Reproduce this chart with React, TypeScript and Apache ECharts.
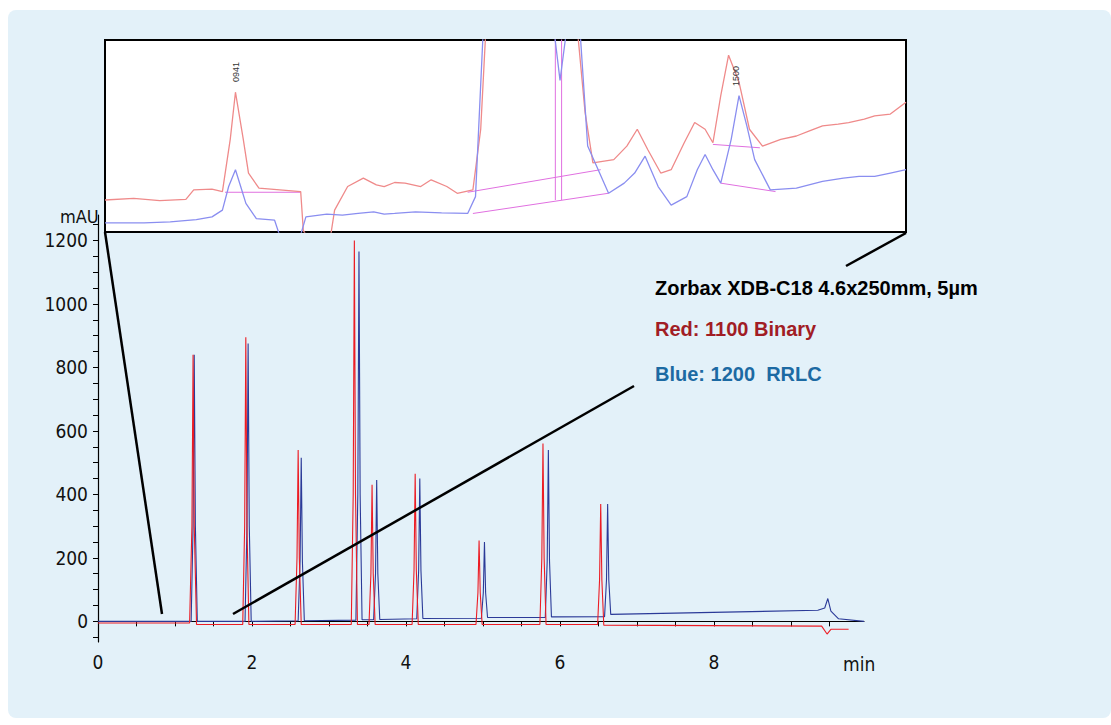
import { useEffect, useRef } from 'react';
import * as echarts from 'echarts';

// main chromatogram (min, mAU)
const redTrace: [number, number][] = [
  [0, -5], [1.19, -5], [1.22, 300], [1.235, 840], [1.25, 300], [1.28, -10], [1.88, -10], [1.905, 300], [1.92, 895], [1.935, 300], [1.96, -10],
  [2.56, -10], [2.585, 200], [2.6, 540], [2.615, 200], [2.64, -10], [3.29, -10], [3.315, 400], [3.33, 1200], [3.345, 400], [3.37, -10],
  [3.52, -10], [3.545, 150], [3.56, 430], [3.575, 150], [3.6, -10], [4.08, -10], [4.105, 160], [4.12, 465], [4.135, 160], [4.16, -10],
  [4.91, -10], [4.935, 90], [4.95, 255], [4.965, 90], [4.99, -10], [5.74, -10], [5.765, 200], [5.78, 560], [5.795, 200], [5.82, -10],
  [6.49, -10], [6.515, 130], [6.53, 370], [6.545, 130], [6.57, -12], [9.4, -15], [9.47, -40], [9.52, -25], [9.75, -25],
];
const blueTrace: [number, number][] = [
  [0, 0], [1.21, 0], [1.235, 300], [1.25, 840], [1.265, 300], [1.29, 0], [1.91, 0], [1.935, 300], [1.95, 875], [1.965, 300], [1.99, 0],
  [2.6, 2], [2.625, 190], [2.64, 515], [2.655, 190], [2.68, 2], [3.35, 4], [3.375, 400], [3.39, 1165], [3.405, 400], [3.43, 5],
  [3.58, 5], [3.605, 150], [3.62, 445], [3.635, 150], [3.66, 6], [4.14, 8], [4.165, 160], [4.18, 450], [4.195, 160], [4.22, 9],
  [4.98, 10], [5.005, 90], [5.02, 250], [5.035, 90], [5.06, 12], [5.81, 12], [5.835, 190], [5.85, 540], [5.865, 190], [5.89, 14],
  [6.58, 15], [6.605, 130], [6.62, 370], [6.635, 130], [6.66, 22], [9.35, 35], [9.44, 42], [9.48, 72], [9.52, 32], [9.62, 8], [9.95, 0],
];

// zoomed inset traces (inset units, y grows downward)
const insetRed: [number, number][] = [
  [25, 510], [80, 505], [130, 512], [180, 508], [195, 480], [230, 478], [250, 485], [265, 330], [275, 190], [290, 330], [300, 430],
  [320, 475], [360, 480], [400, 485], [405, 600], [420, 640], [455, 640], [465, 540], [490, 470], [520, 445], [545, 465], [560, 470],
  [580, 458], [600, 460], [630, 470], [650, 450], [680, 470], [700, 490], [730, 480], [745, 300], [755, 0], [930, 0], [945, 250],
  [960, 400], [1000, 390], [1025, 350], [1045, 300], [1065, 360], [1090, 430], [1110, 420], [1135, 340], [1155, 280], [1175, 300],
  [1190, 340], [1205, 200], [1220, 80], [1240, 160], [1260, 300], [1285, 350], [1320, 330], [1350, 320], [1375, 305], [1400, 290],
  [1430, 285], [1450, 280], [1480, 270], [1500, 260], [1530, 255], [1560, 220],
];
const insetBlue: [number, number][] = [
  [25, 578], [100, 578], [150, 575], [200, 568], [230, 560], [250, 540], [262, 470], [275, 420], [285, 470], [295, 520], [315, 565],
  [350, 570], [365, 640], [395, 640], [410, 560], [450, 552], [480, 555], [510, 550], [540, 545], [560, 552], [580, 550], [620, 545],
  [670, 548], [720, 550], [735, 500], [750, 0], [885, 0], [897, 155], [910, 0], [935, 0], [950, 350], [990, 490], [1020, 460],
  [1040, 430], [1060, 380], [1085, 470], [1110, 525], [1140, 500], [1160, 420], [1175, 375], [1190, 420], [1205, 460], [1225, 330],
  [1240, 200], [1255, 290], [1270, 390], [1300, 480], [1350, 475], [1400, 455], [1440, 445], [1470, 440], [1500, 440], [1530, 430],
  [1560, 420],
];
const insetMarks: [number, number][][] = [
  [[255, 487], [400, 487]],
  [[720, 487], [975, 420]],
  [[730, 550], [990, 490]],
  [[888, 0], [888, 510]],
  [[900, 0], [900, 510]],
  [[1190, 345], [1280, 355]],
  [[1205, 460], [1310, 485]],
];

const xLabels = [0, 2, 4, 6, 8];
const yLabels = [0, 200, 400, 600, 800, 1000, 1200];
const xTicks = [0, 0.5, 1, 1.5, 2, 2.5, 3, 3.5, 4, 4.5, 5, 5.5, 6, 6.5, 7, 7.5, 8, 8.5, 9, 9.5];
const yTicks = [-50, 0, 50, 100, 150, 200, 250, 300, 350, 400, 450, 500, 550, 600, 650, 700, 750, 800, 850, 900, 950, 1000, 1050, 1100, 1150, 1200, 1250];

const legendLines = [
  { text: 'Zorbax XDB-C18 4.6x250mm, 5µm', color: '#000000', y: 278 },
  { text: 'Red: 1100 Binary', color: '#a11d25', y: 319 },
  { text: 'Blue: 1200  RRLC', color: '#1c6aa3', y: 364 },
];

const FONT = '"Liberation Sans Narrow", "DejaVu Sans Condensed", sans-serif';

export default function App() {
  const el = useRef<HTMLDivElement>(null);

  useEffect(() => {
    if (!el.current) return;
    const chart = echarts.init(el.current, undefined, { renderer: 'svg' });
    const axisLine = { show: true, lineStyle: { color: '#000', width: 1.2 } };
    const plain = (v: number) => String(v);
    const option = {
      animation: false,
      backgroundColor: '#ffffff',
      grid: [
        { left: 98, right: 247, top: 215, bottom: 83 },
        { left: 105, right: 205, top: 40, bottom: 493, show: true, backgroundColor: '#ffffff', borderColor: '#000', borderWidth: 2, z: 5 },
      ],
      xAxis: [
        {
          gridIndex: 0, type: 'value', min: 0, max: 9.95, axisLine,
          splitLine: { show: false },
          axisTick: { show: true, length: 5, customValues: xTicks, lineStyle: { color: '#000' } },
          axisLabel: { customValues: xLabels, formatter: plain, fontFamily: FONT, fontSize: 19, color: '#111', margin: 10 },
        },
        { gridIndex: 1, type: 'value', min: 25, max: 1560, show: false },
      ],
      yAxis: [
        {
          gridIndex: 0, type: 'value', min: -65, max: 1280, axisLine,
          splitLine: { show: false },
          axisTick: { show: true, length: 5, customValues: yTicks, lineStyle: { color: '#000' } },
          axisLabel: { customValues: yLabels, formatter: plain, fontFamily: FONT, fontSize: 19, color: '#111', margin: 10 },
        },
        { gridIndex: 1, type: 'value', min: 35, max: 605, inverse: true, show: false },
      ],
      series: [
        { type: 'line', xAxisIndex: 0, yAxisIndex: 0, data: blueTrace, showSymbol: false, lineStyle: { color: '#2b3a98', width: 1.1 } },
        { type: 'line', xAxisIndex: 0, yAxisIndex: 0, data: redTrace, showSymbol: false, lineStyle: { color: '#ec1c24', width: 1.1 } },
        ...insetMarks.map((m) => ({
          type: 'line', xAxisIndex: 1, yAxisIndex: 1, data: m, showSymbol: false, z: 6,
          lineStyle: { color: '#e070e0', width: 1 },
        })),
        { type: 'line', xAxisIndex: 1, yAxisIndex: 1, data: insetRed, showSymbol: false, z: 7, lineStyle: { color: '#ef8a8a', width: 1.3 } },
        { type: 'line', xAxisIndex: 1, yAxisIndex: 1, data: insetBlue, showSymbol: false, z: 7, lineStyle: { color: '#8a8ef0', width: 1.3 } },
      ],
      graphic: [
        { type: 'rect', z: -10, shape: { x: 8, y: 10, width: 1103, height: 708, r: 8 }, style: { fill: '#e3f1f9' } },
        { type: 'line', z: 10, shape: { x1: 105, y1: 232, x2: 162, y2: 614 }, style: { stroke: '#000', lineWidth: 2.5 } },
        { type: 'line', z: 10, shape: { x1: 906, y1: 233, x2: 846, y2: 266 }, style: { stroke: '#000', lineWidth: 2.5 } },
        { type: 'line', z: 10, shape: { x1: 634, y1: 386, x2: 233, y2: 614 }, style: { stroke: '#000', lineWidth: 2.5 } },
        { type: 'text', z: 10, x: 60, y: 207, style: { text: 'mAU', font: `18px ${FONT}`, fill: '#111' } },
        { type: 'text', z: 10, x: 843, y: 654, style: { text: 'min', font: `19px ${FONT}`, fill: '#111' } },
        { type: 'text', z: 10, x: 236, y: 72, rotation: Math.PI / 2, style: { text: '0941', font: '9px sans-serif', fill: '#333', align: 'center', verticalAlign: 'middle' } },
        { type: 'text', z: 10, x: 736, y: 76, rotation: Math.PI / 2, style: { text: '1500', font: '9px sans-serif', fill: '#333', align: 'center', verticalAlign: 'middle' } },
        ...legendLines.map((l) => ({
          type: 'text', z: 10, x: 655, y: l.y,
          style: { text: l.text, font: 'bold 20px "Liberation Sans", Arial, sans-serif', fill: l.color },
        })),
      ],
    };
    chart.setOption(option as echarts.EChartsOption);
    return () => chart.dispose();
  }, []);

  return <div ref={el} style={{ position: 'fixed', left: 0, top: 0, width: 1111, height: 725 }} />;
}
